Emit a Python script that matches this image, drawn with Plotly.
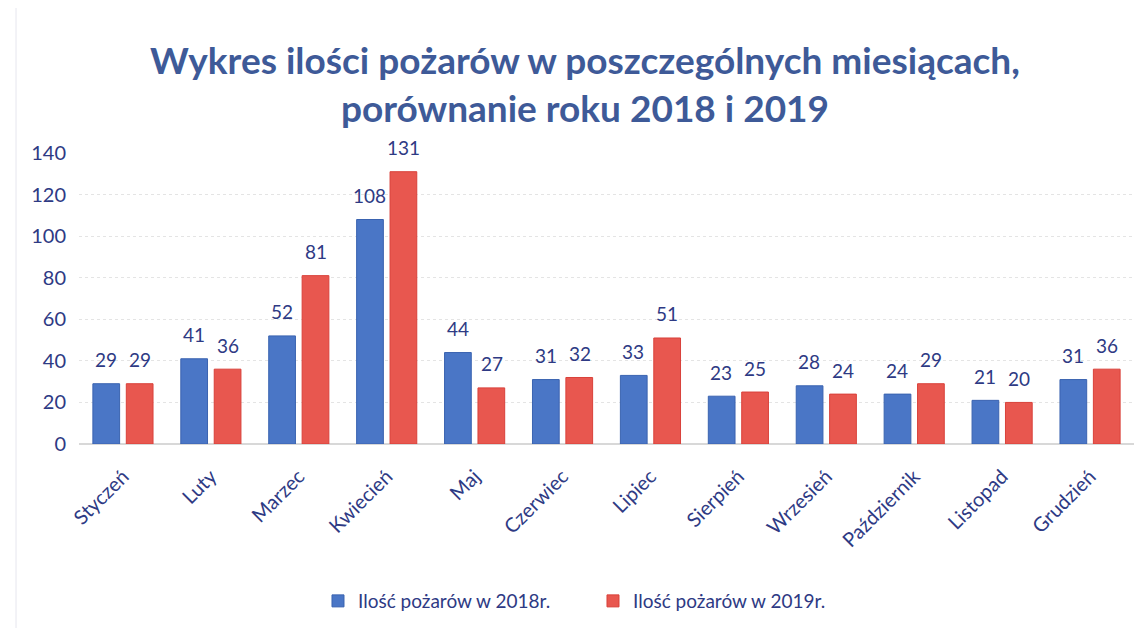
import plotly.graph_objects as go

months = ["Styczeń", "Luty", "Marzec", "Kwiecień", "Maj", "Czerwiec", "Lipiec",
          "Sierpień", "Wrzesień", "Październik", "Listopad", "Grudzień"]
fires_2018 = [29, 41, 52, 108, 44, 31, 33, 23, 28, 24, 21, 31]
fires_2019 = [29, 36, 81, 131, 27, 32, 51, 25, 24, 29, 20, 36]
name_2018 = "Ilość pożarów w 2018r."
name_2019 = "Ilość pożarów w 2019r."
title_text = "Wykres ilości pożarów w poszczególnych miesiącach,<br>porównanie roku 2018 i 2019"

FONT = "Lato"
TXT = "#2E3A84"

fig = go.Figure()
fig.add_trace(go.Bar(
    x=months, y=fires_2018, name=name_2018,
    marker=dict(color="#4A76C6", line=dict(color="#3A63B0", width=1)),
))
fig.add_trace(go.Bar(
    x=months, y=fires_2019, name=name_2019,
    marker=dict(color="#E8574F", line=dict(color="#D9413A", width=1)),
))

# value labels above bars (positioned via the data scale)
for series, shift in ((fires_2018, -17), (fires_2019, 17)):
    for m, v in zip(months, series):
        fig.add_annotation(x=m, y=v, xref="x", yref="y", text=str(v),
                           showarrow=False, xshift=shift, yshift=24,
                           yanchor="middle", xanchor="center",
                           font=dict(family=FONT, size=19, color=TXT))

# page has an 8px body margin, so the figure is sized to fit the window
fig.update_layout(
    width=1139, height=620,
    margin=dict(l=71, r=13, t=145, b=184, autoexpand=False),
    paper_bgcolor="white", plot_bgcolor="white",
    barmode="group", bargap=0.24, bargroupgap=0.2,
    title=dict(text=title_text, x=0.5066, xanchor="center", xref="container",
               y=0.893, yanchor="middle",
               font=dict(family=FONT, size=37, color="#3E5A98", weight="bold")),
    font=dict(family=FONT, color=TXT),
    legend=dict(orientation="h", xref="container", x=0.5136, xanchor="center",
                yref="container", y=0.0435, yanchor="middle",
                font=dict(family=FONT, size=19, color=TXT),
                entrywidth=230, entrywidthmode="pixels",
                traceorder="normal"),
    showlegend=True,
)
fig.update_yaxes(range=[0, 140], dtick=20, showgrid=True, gridcolor="#E4E4E4",
                 griddash="dot", zeroline=True, zerolinecolor="#D8D8D8",
                 tickfont=dict(family=FONT, size=20, color=TXT),
                 ticklabelstandoff=12, showline=False, automargin=False)
fig.update_xaxes(tickangle=-45, tickfont=dict(family=FONT, size=20, color=TXT),
                 showline=False, ticks="", ticklabelstandoff=16, automargin=False)
fig.add_shape(type="line", xref="paper", yref="paper", x0=-0.0597, x1=-0.0597,
              y0=-0.7, y1=1.6, line=dict(color="#E6E6EE", width=1))

fig.write_html("out.html")
